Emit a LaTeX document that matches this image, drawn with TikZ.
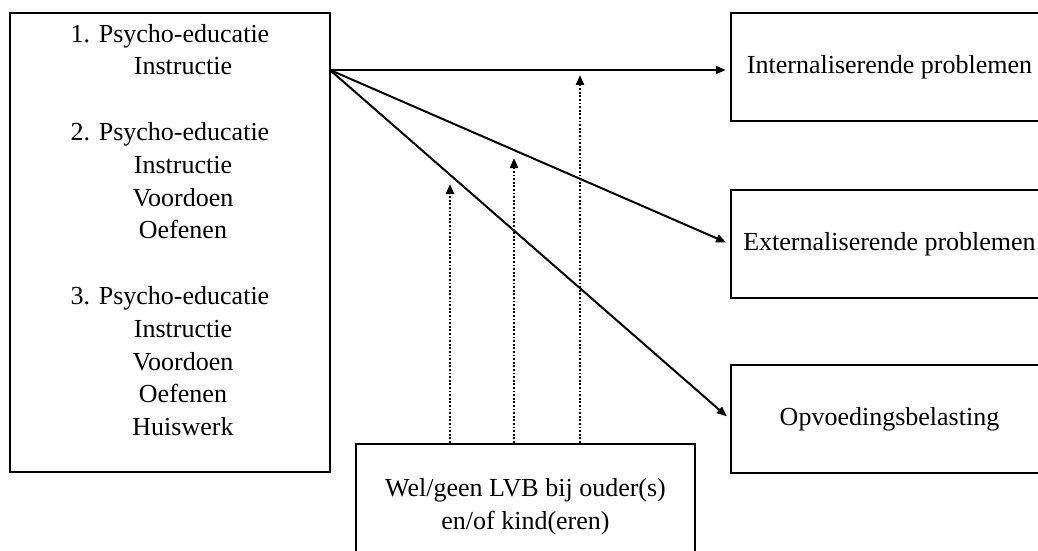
\documentclass[tikz,border=0pt]{standalone}
\usepackage{fontspec}
\setmainfont{Liberation Serif}
\usetikzlibrary{arrows.meta}
\newcommand{\stap}[1]{\hspace*{1em}#1}

\begin{document}
\begin{tikzpicture}[x=0.5pt,y=-0.5pt,font=\fontsize{13}{16.4}\selectfont]
\tikzstyle{box}=[draw=black,line width=1.2pt,inner sep=0pt,align=center]
\tikzstyle{effect}=[black,line width=1pt,-{Triangle[length=5pt,width=4pt]},shorten >=2pt]
\tikzstyle{moderator}=[black,line width=1.1pt,dash pattern=on 0.9pt off 0.9pt,-{Triangle[length=5pt,width=4pt]}]
\useasboundingbox (0,0) rectangle (1038,551);
\clip (0,0) rectangle (1038,551);
\node [box,minimum width=160pt,minimum height=229.5pt] (prog) at (170,242.5) {};
\node [align=center] (progtext) at (170,230) {1. Psycho-educatie\\ \stap{Instructie}\\[16.4pt]
  2. Psycho-educatie\\ \stap{Instructie}\\ \stap{Voordoen}\\ \stap{Oefenen}\\[16.4pt]
  3. Psycho-educatie\\ \stap{Instructie}\\ \stap{Voordoen}\\ \stap{Oefenen}\\ \stap{Huiswerk}};
\node [box,minimum width=158.5pt,minimum height=54pt] (intern) at (889.5,67) {Internaliserende problemen};
\node [box,minimum width=158.5pt,minimum height=54pt] (extern) at (889.5,244) {Externaliserende problemen};
\node [box,minimum width=158.5pt,minimum height=54pt] (opvoed) at (889.5,419) {Opvoedingsbelasting};
\node [box,minimum width=169.5pt,minimum height=63pt] (lvb) at (525.5,507) {Wel/geen LVB bij ouder(s)\\en/of kind(eren)};
\coordinate (bron) at (330,70);
\draw [effect] (bron) -- (intern.west |- bron);
\draw [effect] (bron) -- (extern.west);
\draw [effect] (bron) -- (opvoed.west);
\coordinate (mod1) at (450,184);
\coordinate (mod2) at (514,158);
\coordinate (mod3) at (580,75);
\draw [moderator] (lvb.north -| mod1) -- (mod1);
\draw [moderator] (lvb.north -| mod2) -- (mod2);
\draw [moderator] (lvb.north -| mod3) -- (mod3);
\end{tikzpicture}
\end{document}
